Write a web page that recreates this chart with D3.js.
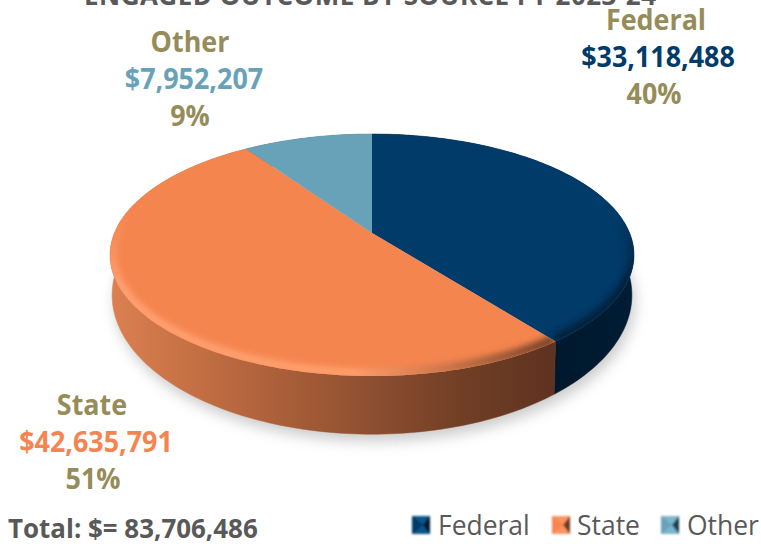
<!DOCTYPE html>
<html>
<head>
<title>Engaged outcome by source</title>
<script src="https://d3js.org/d3.v7.min.js"></script>
<style>
    html, body { margin: 0; padding: 0; background: white; overflow: hidden; }
    svg { display: block; }
    text { font-family: "Open Sans", sans-serif; }
    .lab { font-weight: 700; font-size: 28px; text-anchor: middle; }
</style>
</head>
<body>
<svg id="chart" width="761" height="544"></svg>
<script>
const categories = ["Federal", "State", "Other"];
const amounts = [33118488, 42635791, 7952207];
const percents = ["40%", "51%", "9%"];
const titleText = "ENGAGED OUTCOME BY SOURCE FY 2023-24";
const totalText = "Total: $= 83,706,486";

const faceColors = ["#003b6a", "#f58550", "#68a2b9"];
const legendLight = ["#0b5488", "#fb9462", "#7ab6cd"];
const legendDark = ["#00182c", "#693a22", "#1f3c48"];
const olive = "#968c5a";
const gray = "#595959";

const svg = d3.select("#chart");
const defs = svg.append("defs");

// tilted disc: circle angle -> screen point, apex sits above the ellipse middle
const cx = 372, cy = 233, a = 257.6, b = 117, k = -0.182;
function topPoint(t) {
    const x = Math.sin(t), y = -Math.cos(t), w = 1 + k * y;
    return [cx + a * x / w, cy + b * y / w];
}
// lower edge of the wall, a slightly taller ellipse than the face
function bottomPoint(t) {
    const p = topPoint(t);
    return [cx + (p[0] - cx) * 0.992, 295 + (p[1] - 255) * 1.15];
}
function arcPoints(fn, t0, t1) {
    const n = Math.ceil((t1 - t0) / 0.02);
    return d3.range(n + 1).map(i => fn(t0 + (t1 - t0) * i / n));
}
const line = d3.line();

const slices = d3.pie().sort(null)(amounts);
const money = d3.format("$,");

defs.append("filter").attr("id", "soft").attr("x", "-20%").attr("y", "-20%")
    .attr("width", "140%").attr("height", "140%")
    .append("feGaussianBlur").attr("stdDeviation", 7);
defs.append("filter").attr("id", "rimBlur").attr("filterUnits", "userSpaceOnUse")
    .attr("x", 0).attr("y", 0).attr("width", 761).attr("height", 544)
    .append("feGaussianBlur").attr("stdDeviation", 3);
defs.append("filter").attr("id", "edge")
    .append("feGaussianBlur").attr("stdDeviation", 0.6);
defs.append("filter").attr("id", "keyBlur")
    .append("feGaussianBlur").attr("stdDeviation", 0.9);

function gradient(id, attrs, stops) {
    const g = defs.append("linearGradient").attr("id", id).attr("gradientUnits", "userSpaceOnUse");
    Object.keys(attrs).forEach(key => g.attr(key, attrs[key]));
    stops.forEach(s => g.append("stop").attr("offset", s[0]).attr("stop-color", s[1]).attr("stop-opacity", s.length > 2 ? s[2] : 1));
}
gradient("sideState", {x1: 110, x2: 553, y1: 0, y2: 0},
    [[0, "#dc8050"], [0.25, "#bd6a40"], [0.55, "#935232"], [0.8, "#703e25"], [1, "#5f3320"]]);
gradient("sideFederal", {x1: 553, x2: 635, y1: 0, y2: 0}, [[0, "#00182c"], [1, "#001d35"]]);
gradient("sideOther", {x1: 110, x2: 635, y1: 0, y2: 0}, [[0, "#4a7486"], [1, "#4a7486"]]);
gradient("rimState", {x1: 110, x2: 553, y1: 0, y2: 0},
    [[0, "#ffa273"], [0.55, "#ffa06f"], [0.75, "#c8754a"], [1, "#6b3b23"]]);
gradient("rimFederal", {x1: 0, x2: 0, y1: 0, y2: 544}, [[0, "#00203a"], [1, "#00203a"]]);
gradient("rimOther", {x1: 0, x2: 0, y1: 0, y2: 544}, [[0, "#68a2b9"], [1, "#68a2b9"]]);
gradient("rimFade", {x1: 0, x2: 0, y1: 215, y2: 285}, [[0, "#000"], [1, "#fff"]]);
defs.append("mask").attr("id", "rimMask").attr("maskUnits", "userSpaceOnUse")
    .attr("x", 0).attr("y", 0).attr("width", 761).attr("height", 544)
    .append("rect").attr("width", 761).attr("height", 544).attr("fill", "url(#rimFade)");

// title is cut off by the top of the picture in the original
svg.append("text").attr("x", 370).attr("y", 5)
    .attr("text-anchor", "middle").attr("fill", gray)
    .attr("font-weight", 700).attr("font-size", 26)
    .attr("textLength", 572).attr("lengthAdjust", "spacing")
    .text(titleText);

// soft shadow under the disc
svg.append("path")
    .attr("d", line(arcPoints(t => {
        const p = bottomPoint(t);
        return [p[0] + 3, p[1] + 7];
    }, 0, 2 * Math.PI)) + "Z")
    .attr("fill", "#b5b5b5").attr("opacity", 0.7).attr("filter", "url(#soft)");

// side wall
const sideFills = ["url(#sideFederal)", "url(#sideState)", "url(#sideOther)"];
svg.append("g").selectAll("path").data(slices).join("path")
    .attr("d", d => line(arcPoints(topPoint, d.startAngle, d.endAngle)
        .concat(arcPoints(bottomPoint, d.startAngle, d.endAngle).reverse())) + "Z")
    .attr("fill", (d, i) => sideFills[i])
    .attr("stroke", (d, i) => sideFills[i]).attr("stroke-width", 0.5);

// top face
const facePath = d => line([[cx, cy]].concat(arcPoints(topPoint, d.startAngle, d.endAngle))) + "Z";
slices.forEach((d, i) => {
    defs.append("clipPath").attr("id", "clip" + i).append("path").attr("d", facePath(d));
});
svg.append("g").attr("filter", "url(#edge)").selectAll("path").data(slices).join("path")
    .attr("d", facePath)
    .attr("fill", (d, i) => faceColors[i]);

// rounded rim along the outer edge of each slice, only on the near side
const rimFills = ["url(#rimFederal)", "url(#rimState)", "url(#rimOther)"];
svg.append("g").attr("mask", "url(#rimMask)")
    .selectAll("g").data(slices).join("g")
    .attr("clip-path", (d, i) => "url(#clip" + i + ")")
    .append("path")
    .attr("d", d => {
        const inset = t => {
            const p = topPoint(t);
            return [cx + (p[0] - cx) * 0.992, 255 + (p[1] - 255) * 0.975];
        };
        return line(arcPoints(inset, d.startAngle, d.endAngle));
    })
    .attr("fill", "none")
    .attr("stroke", (d, i) => rimFills[i])
    .attr("stroke-width", 9)
    .attr("filter", "url(#rimBlur)");

// data labels, squeezed a bit like the original type
const nameX = [656, 92, 190];
const valueX = [658, 96, 194];
const pctX = [654, 93, 190];
const labelY = [30, 415, 52];
const labelStep = 37;
const squeeze = 0.96;
function squeezed(sel) {
    sel.attr("lengthAdjust", "spacingAndGlyphs")
        .attr("textLength", function() { return this.getComputedTextLength() * squeeze; });
}
categories.forEach((name, i) => {
    const g = svg.append("g");
    g.append("text").attr("class", "lab").attr("x", nameX[i]).attr("y", labelY[i])
        .attr("fill", olive).text(name).call(squeezed);
    g.append("text").attr("class", "lab").attr("x", valueX[i]).attr("y", labelY[i] + labelStep)
        .attr("fill", faceColors[i]).text(money(amounts[i])).call(squeezed);
    g.append("text").attr("class", "lab").attr("x", pctX[i]).attr("y", labelY[i] + labelStep * 2)
        .attr("fill", olive).text(percents[i]).call(squeezed);
});

svg.append("text").attr("x", 8).attr("y", 538)
    .attr("fill", gray).attr("font-weight", 700).attr("font-size", 27)
    .text(totalText).call(squeezed);

// legend, little bevelled squares
const legendX = [412, 552, 661];
const legendTextX = [438, 577, 687];
const keySize = 18, keyY = 516, keyMid = 0.62;
categories.forEach((name, i) => {
    const x = legendX[i], s = keySize, y = keyY, mx = x + s * keyMid, my = y + s / 2;
    const g = svg.append("g").attr("filter", "url(#keyBlur)");
    g.append("rect").attr("x", x).attr("y", y).attr("width", s).attr("height", s).attr("fill", faceColors[i]);
    g.append("path").attr("d", line([[x, y], [x + s, y], [mx, my]]) + "Z").attr("fill", legendLight[i]);
    g.append("path").attr("d", line([[x, y + s], [x + s, y + s], [mx, my]]) + "Z").attr("fill", legendLight[i]);
    g.append("path").attr("d", line([[x + s, y], [x + s, y + s], [mx, my]]) + "Z").attr("fill", legendDark[i]);
    svg.append("text").attr("x", legendTextX[i]).attr("y", 535)
        .attr("fill", gray).attr("font-size", 27).text(name)
        .attr("lengthAdjust", "spacingAndGlyphs")
        .attr("textLength", function() { return this.getComputedTextLength() * 0.98; });
});
</script>
</body>
</html>
